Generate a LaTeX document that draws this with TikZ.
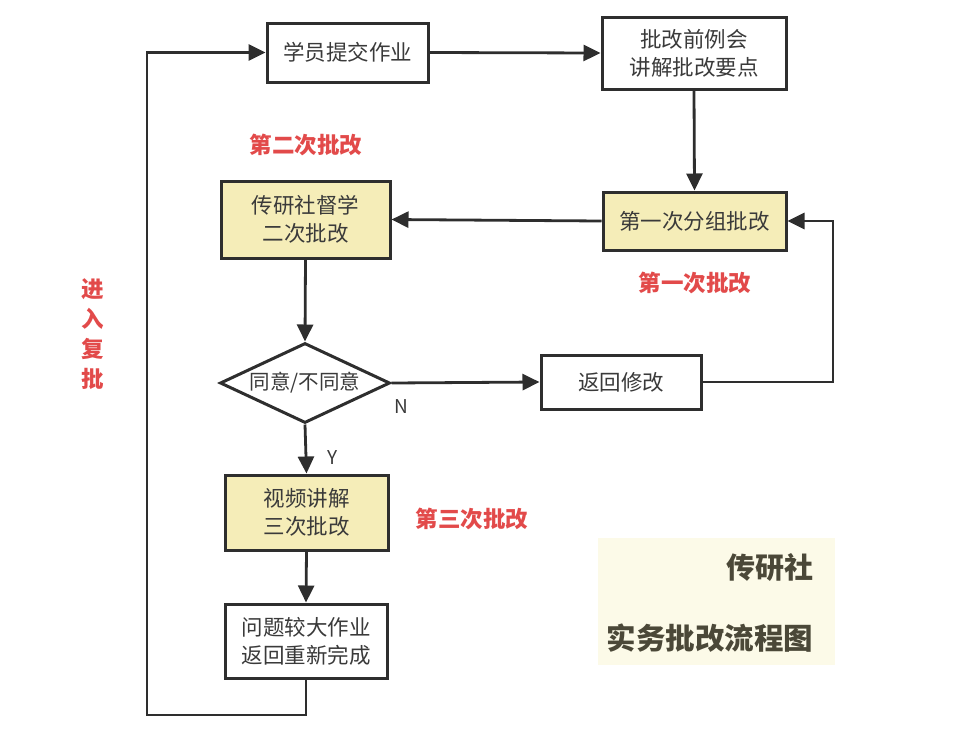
\documentclass[tikz,border=0pt]{standalone}
\usepackage{fontspec}
\setmainfont{Noto Sans CJK SC}
\usetikzlibrary{arrows.meta,shapes.geometric}
\definecolor{ln}{HTML}{2E2E2E}
\definecolor{txt}{HTML}{3A3A3A}
\definecolor{ylw}{HTML}{F5EDB8}
\definecolor{rd}{HTML}{E24A4A}
\definecolor{leg}{HTML}{FCFAE8}
\definecolor{legtxt}{HTML}{4B4838}
\tikzset{
  box/.style={draw=ln, line width=3pt, fill=white, align=center, inner sep=0pt,
    text=txt, font=\fontsize{21.5}{28}\selectfont},
  ybox/.style={box, fill=ylw},
  dia/.style={diamond, aspect=2.1, draw=ln, line width=3pt, fill=white, inner sep=0pt,
    text=txt, font=\fontsize{20.5}{27}\selectfont, minimum width=170pt, minimum height=80pt},
  arr/.style={draw=ln, line width=2.8pt, -{Triangle[length=17pt,width=16pt]}},
  redlab/.style={text=rd, font=\fontsize{22.5}{30}\selectfont\bfseries, align=center},
  small/.style={text=txt, font=\fontsize{19}{22}\selectfont}
}
\begin{document}
\begin{tikzpicture}[x=1pt,y=-1pt]
\useasboundingbox (0,0) rectangle (966,732);
% legend background
\node[fill=leg, minimum width=237pt, minimum height=127pt, inner sep=0pt] (legbg) at (716.5,601.5) {};
\node[anchor=east, text=legtxt, font=\fontsize{29}{32}\selectfont\bfseries] (leg1) at (817,567) {传研社};
\node[anchor=east, text=legtxt, font=\fontsize{29.5}{32}\selectfont\bfseries] (leg2) at (817,638) {实务批改流程图};

% nodes
\node[box, minimum width=161pt, minimum height=59pt] (A) at (347.5,52.5) {学员提交作业};
\node[box, minimum width=184pt, minimum height=72pt] (B) at (694,53) {批改前例会\\讲解批改要点};
\node[ybox, minimum width=183pt, minimum height=58pt] (C) at (694.5,221) {第一次分组批改};
\node[ybox, minimum width=169pt, minimum height=77pt] (D) at (305.5,219.5) {传研社督学\\二次批改};
\node[dia] (Q) at (305,383) {同意/不同意};
\node[box, minimum width=160pt, minimum height=54pt] (E) at (621,382) {返回修改};
\node[ybox, minimum width=163pt, minimum height=75pt] (F) at (306.5,512.5) {视频讲解\\三次批改};
\node[box, minimum width=162pt, minimum height=74pt] (G) at (306,641) {问题较大作业\\返回重新完成};

% labels
\node[small] (lN) at (401,407) {N};
\node[small] (lY) at (333,458) {Y};
\node[redlab] (r2) at (306,145) {第二次批改};
\node[redlab] (r1) at (695,283) {第一次批改};
\node[redlab] (r3) at (472,519) {第三次批改};
\node[redlab] (r4) at (93,334) {进\\入\\复\\批};

% connectors
\coordinate (k1) at (833,382);
\coordinate (lb) at (147,715);
\draw[arr] (A.east) -- (B.west);
\draw[arr] (B.south) -- (C.north);
\draw[arr] (C.west) -- (D.east);
\draw[arr] (D.south) -- (Q.north);
\draw[arr] (Q.east) -- (E.west);
\draw[arr] (E.east) -- (k1) |- (C.east);
\draw[arr] (Q.south) -- (F.north);
\draw[arr] (F.south) -- (G.north);
\draw[arr] (G.south) |- (lb) |- (A.west);
\end{tikzpicture}
\end{document}
